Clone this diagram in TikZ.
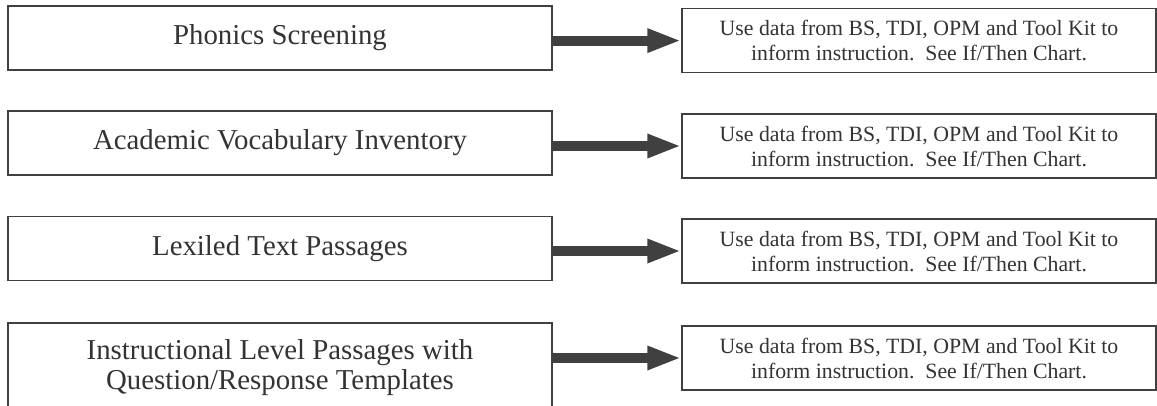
\documentclass[tikz,border=0pt]{standalone}
\usepackage{fontspec}
\setmainfont{Liberation Serif}
\usetikzlibrary{arrows.meta}

\begin{document}
\begin{tikzpicture}[
    test/.style={draw=black!75, line width=1pt, inner sep=0pt, align=center,
        text=black!80, minimum width=13.6cm, minimum height=1.6cm,
        font=\fontsize{20.5}{21.3}\selectfont},
    use/.style={draw=black!75, line width=1pt, inner sep=0pt, align=center,
        text=black!80, minimum width=11.85cm, minimum height=1.6cm,
        font=\fontsize{15.5}{17.8}\selectfont},
    fat/.style={draw=black!75, line width=7pt,
        -{Triangle[length=0.85cm, width=0.55cm]}}]
\useasboundingbox (0,0) rectangle (28.925,10.125);

\node[test] (phon) at (7,9.175) {Phonics Screening};
\node[test] (vocab) at (7,6.55) {Academic Vocabulary Inventory};
\node[test] (lex) at (7,3.91) {Lexiled Text Passages};
\node[test, minimum height=2.25cm] (instr) at (7,0.925)
    {Instructional Level Passages with\\Question/Response Templates};

\node[use] (phonuse) at (22.975,9.11)
    {Use data from BS, TDI, OPM and Tool Kit to\\inform instruction.\ \ See If/Then Chart.};
\node[use] (vocabuse) at (22.975,6.475)
    {Use data from BS, TDI, OPM and Tool Kit to\\inform instruction.\ \ See If/Then Chart.};
\node[use] (lexuse) at (22.975,3.85)
    {Use data from BS, TDI, OPM and Tool Kit to\\inform instruction.\ \ See If/Then Chart.};
\node[use] (instruse) at (22.975,1.175)
    {Use data from BS, TDI, OPM and Tool Kit to\\inform instruction.\ \ See If/Then Chart.};

\draw[fat] (phon.east |- phonuse) -- (phonuse.west);
\draw[fat] (vocab.east |- vocabuse) -- (vocabuse.west);
\draw[fat] (lex.east |- lexuse) -- (lexuse.west);
\draw[fat] (instr.east |- instruse) -- (instruse.west);
\end{tikzpicture}
\end{document}
